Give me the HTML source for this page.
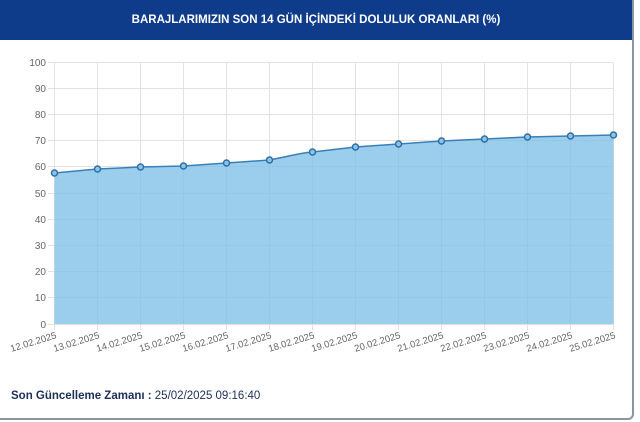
<!DOCTYPE html>
<html><head><meta charset="utf-8"><style>
body{margin:0;background:#fff;width:640px;height:422px;overflow:hidden;font-family:"Liberation Sans",sans-serif}
.card{position:absolute;left:0;top:0;width:632px;height:418px;border-right:2px solid #8a94a3;border-bottom:2px solid #8a94a3;border-radius:0 0 6px 0;background:#fff}
.hdr{position:absolute;left:0;top:0;width:632px;height:40px;background:#0e3b8a;color:#fff;font-weight:bold;font-size:11.5px;text-align:center;line-height:40px}
.foot{position:absolute;left:11px;top:390px;font-size:11.5px;color:#1c2f57}
</style></head><body>
<div class="card"></div>
<div class="hdr">BARAJLARIMIZIN SON 14 GÜN İÇİNDEKİ DOLULUK ORANLARI (%)</div>
<svg style="position:absolute;left:0;top:0" width="640" height="422">
<g stroke="#e2e2e2" stroke-width="1">
<line x1="48" y1="62.5" x2="614" y2="62.5"/><line x1="48" y1="88.5" x2="614" y2="88.5"/><line x1="48" y1="114.5" x2="614" y2="114.5"/><line x1="48" y1="140.5" x2="614" y2="140.5"/><line x1="48" y1="166.5" x2="614" y2="166.5"/><line x1="48" y1="193.5" x2="614" y2="193.5"/><line x1="48" y1="219.5" x2="614" y2="219.5"/><line x1="48" y1="245.5" x2="614" y2="245.5"/><line x1="48" y1="271.5" x2="614" y2="271.5"/><line x1="48" y1="297.5" x2="614" y2="297.5"/><line x1="48" y1="324.5" x2="614" y2="324.5"/>
<line x1="54.5" y1="62" x2="54.5" y2="330"/><line x1="97.5" y1="62" x2="97.5" y2="330"/><line x1="140.5" y1="62" x2="140.5" y2="330"/><line x1="183.5" y1="62" x2="183.5" y2="330"/><line x1="226.5" y1="62" x2="226.5" y2="330"/><line x1="269.5" y1="62" x2="269.5" y2="330"/><line x1="312.5" y1="62" x2="312.5" y2="330"/><line x1="355.5" y1="62" x2="355.5" y2="330"/><line x1="398.5" y1="62" x2="398.5" y2="330"/><line x1="441.5" y1="62" x2="441.5" y2="330"/><line x1="484.5" y1="62" x2="484.5" y2="330"/><line x1="527.5" y1="62" x2="527.5" y2="330"/><line x1="570.5" y1="62" x2="570.5" y2="330"/><line x1="613.5" y1="62" x2="613.5" y2="330"/>
</g>
<path d="M54.5,173 L97.5,169 L140.5,167 L183.5,166 L226.5,163 L269.5,160 C290,156 300,153 312.5,152 L355.5,147 L398.5,144 L441.5,141 L484.5,139 L527.5,137 L570.5,136 L613.5,135 L613.5,324 L54.5,324 Z" fill="rgba(120,190,230,0.75)"/>
<path d="M54.5,173 L97.5,169 L140.5,167 L183.5,166 L226.5,163 L269.5,160 C290,156 300,153 312.5,152 L355.5,147 L398.5,144 L441.5,141 L484.5,139 L527.5,137 L570.5,136 L613.5,135" fill="none" stroke="#3a7fb8" stroke-width="1.5"/>
<g fill="#8cc4e8" stroke="#2e6fa8" stroke-width="1.5">
<circle cx="54.5" cy="173" r="3"/><circle cx="97.5" cy="169" r="3"/><circle cx="140.5" cy="167" r="3"/><circle cx="183.5" cy="166" r="3"/><circle cx="226.5" cy="163" r="3"/><circle cx="269.5" cy="160" r="3"/><circle cx="312.5" cy="152" r="3"/><circle cx="355.5" cy="147" r="3"/><circle cx="398.5" cy="144" r="3"/><circle cx="441.5" cy="141" r="3"/><circle cx="484.5" cy="139" r="3"/><circle cx="527.5" cy="137" r="3"/><circle cx="570.5" cy="136" r="3"/><circle cx="613.5" cy="135" r="3"/>
</g>
<g font-size="10" fill="#666" text-anchor="end">
<text x="46" y="66">100</text><text x="46" y="92">90</text><text x="46" y="118">80</text><text x="46" y="144">70</text><text x="46" y="170">60</text><text x="46" y="197">50</text><text x="46" y="223">40</text><text x="46" y="249">30</text><text x="46" y="275">20</text><text x="46" y="301">10</text><text x="46" y="328">0</text>
</g>
<g font-size="9.5" fill="#666" text-anchor="end">
<text transform="translate(57,338) rotate(-17)">12.02.2025</text><text transform="translate(100,338) rotate(-17)">13.02.2025</text><text transform="translate(143,338) rotate(-17)">14.02.2025</text><text transform="translate(186,338) rotate(-17)">15.02.2025</text><text transform="translate(229,338) rotate(-17)">16.02.2025</text><text transform="translate(272,338) rotate(-17)">17.02.2025</text><text transform="translate(315,338) rotate(-17)">18.02.2025</text><text transform="translate(358,338) rotate(-17)">19.02.2025</text><text transform="translate(401,338) rotate(-17)">20.02.2025</text><text transform="translate(444,338) rotate(-17)">21.02.2025</text><text transform="translate(487,338) rotate(-17)">22.02.2025</text><text transform="translate(530,338) rotate(-17)">23.02.2025</text><text transform="translate(573,338) rotate(-17)">24.02.2025</text><text transform="translate(616,338) rotate(-17)">25.02.2025</text>
</g>
</svg>
<div class="foot"><b>Son Güncelleme Zamanı :</b> 25/02/2025 09:16:40</div>
</body></html>
